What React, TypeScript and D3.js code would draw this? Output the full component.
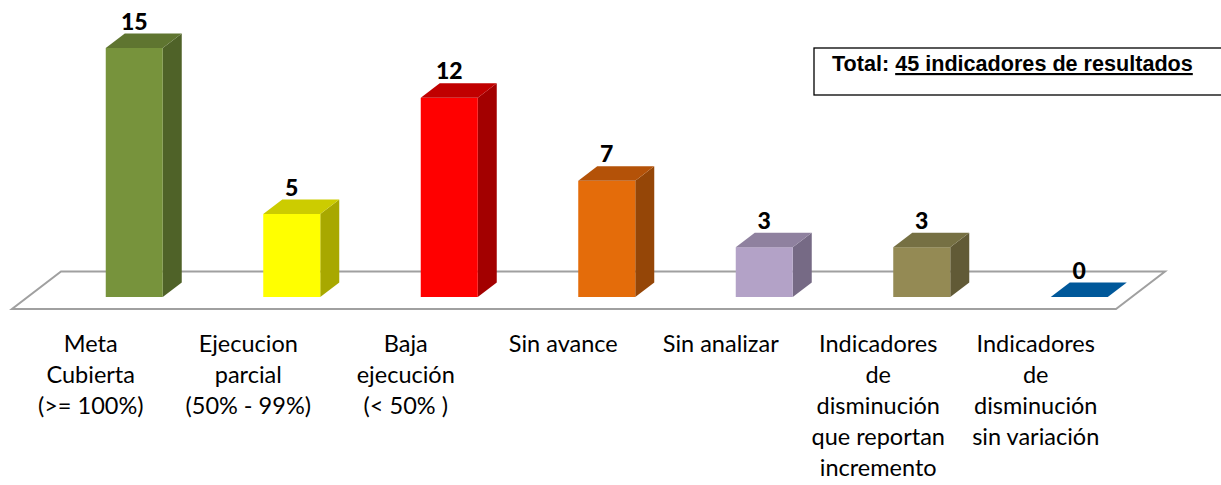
import React from "react";
import * as d3 from "d3";

const categories: string[][] = [
  ["Meta", "Cubierta", "(>= 100%)"],
  ["Ejecucion", "parcial", "(50% - 99%)"],
  ["Baja", "ejecución", "(< 50% )"],
  ["Sin avance"],
  ["Sin analizar"],
  ["Indicadores", "de", "disminución", "que reportan", "incremento"],
  ["Indicadores", "de", "disminución", "sin variación"],
];
const values: number[] = [15, 5, 12, 7, 3, 3, 0];
const frontColors = ["#77933C", "#FFFF00", "#FF0000", "#E46C0A", "#B3A2C7", "#948A54", "#00589A"];
const topColors = ["#5F7530", "#CCCC00", "#C00000", "#B45208", "#8F819F", "#767043", "#00589A"];
const sideColors = ["#4F6228", "#A8A800", "#A30000", "#954607", "#766A85", "#615A36", "#004A80"];
const legendPrefix = "Total: ";
const legendUnderlined = "45 indicadores de resultados";

const W = 1221;
const H = 485;

export default function App() {
  const keys = categories.map((c) => c.join(" "));
  const x = d3.scaleBand<string>().domain(keys).range([12, 1114.5]).paddingInner(0).paddingOuter(0);
  const y = d3.scaleLinear().domain([0, 15]).range([297, 48]);
  const bw = x.bandwidth();
  const barW = 57;
  const barShift = 43.5;
  const ddx = 19;
  const ddy = -14.5;

  const floor: [number, number][] = [
    [61, 271.5],
    [1165, 271.5],
    [1116, 309],
    [12, 309],
  ];
  const line = d3.line();

  const labelFont = "Lato, 'Open Sans', sans-serif";

  return (
    <svg
      width={W}
      height={H}
      viewBox={`0 0 ${W} ${H}`}
      style={{ position: "absolute", left: 0, top: 0, background: "#fff" }}
    >
      <path d={line(floor) + "Z"} fill="#fff" stroke="#A0A0A0" strokeWidth={2} />
      {keys.map((k, i) => {
        const cx = (x(k) as number) + bw / 2;
        const x0 = cx + barShift - barW / 2;
        const x1 = x0 + barW;
        const yb = y(0);
        const yt = y(values[i]);
        const v = values[i];
        const topFace: [number, number][] = [
          [x0, yt],
          [x1, yt],
          [x1 + ddx, yt + ddy],
          [x0 + ddx, yt + ddy],
        ];
        const side: [number, number][] = [
          [x1, yt],
          [x1 + ddx, yt + ddy],
          [x1 + ddx, yb + ddy],
          [x1, yb],
        ];
        return (
          <g key={k}>
            {v > 0 && <path d={line(side) + "Z"} fill={sideColors[i]} />}
            {v > 0 && <rect x={x0} y={yt} width={barW} height={yb - yt} fill={frontColors[i]} />}
            <path d={line(topFace) + "Z"} fill={topColors[i]} />
            <text
              x={x0 + barW / 2}
              y={yt + ddy - 4}
              textAnchor="middle"
              fontFamily={labelFont}
              fontWeight="900"
              fontSize={23}
              fill="#000"
            >
              {v}
            </text>
          </g>
        );
      })}
      {categories.map((lines, i) => {
        const cx = (x(keys[i]) as number) + bw / 2;
        return (
          <text key={i} textAnchor="middle" fontFamily={labelFont} fontSize={23.5} fill="#000">
            {lines.map((t, j) => (
              <tspan key={j} x={cx} y={352 + j * 31}>
                {t}
              </tspan>
            ))}
          </text>
        );
      })}
      <rect x={814} y={48} width={420} height={47} fill="#fff" stroke="#000" strokeWidth={1.3} />
      <text
        x={832}
        y={71}
        fontFamily="'Liberation Sans', Arial, sans-serif"
        fontWeight="bold"
        fontSize={21.6}
        fill="#000"
      >
        <tspan>{legendPrefix}</tspan>
        <tspan textDecoration="underline" style={{ textDecoration: "underline" }}>
          {legendUnderlined}
        </tspan>
      </text>
    </svg>
  );
}
